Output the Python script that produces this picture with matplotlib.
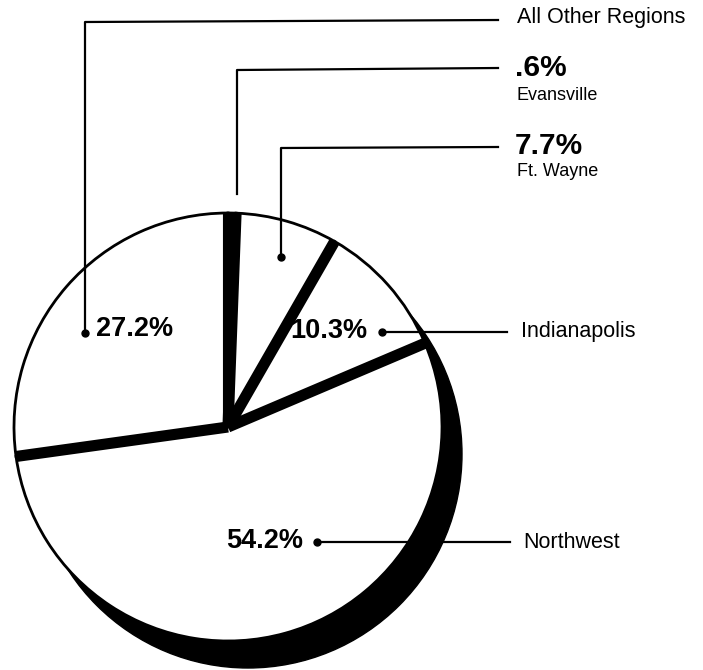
import matplotlib
matplotlib.use("Agg")
import matplotlib.pyplot as plt
import numpy as np
from matplotlib.patches import Circle

# data, clockwise from 12 o'clock
regions = ["Evansville", "Ft. Wayne", "Indianapolis", "Northwest", "All Other Regions"]
shares = [0.6, 7.7, 10.3, 54.2, 27.2]
pct_labels = [".6%", "7.7%", "10.3%", "54.2%", "27.2%"]
fills = ["black", "white", "white", "white", "white"]

W, H = 703, 670
cx, cy, rad = 228, H - 427, 214

plt.rcParams["font.family"] = ["Liberation Sans", "DejaVu Sans"]

fig = plt.figure(figsize=(W / 100, H / 100), dpi=100)
ax = fig.add_axes([0, 0, 1, 1])

# drop shadow
ax.add_patch(Circle((cx + 20, cy - 27), rad, color="black", zorder=0))

wedges, _ = ax.pie(shares, colors=fills, startangle=90, counterclock=False,
                   center=(cx, cy), radius=rad,
                   wedgeprops=dict(edgecolor="black", linewidth=2, zorder=1))

# thick black separators on the slice boundaries
angles = sorted({round(a, 4) % 360 for w in wedges for a in (w.theta1, w.theta2)})
for a in angles:
    t = np.deg2rad(a)
    ax.plot([cx, cx + rad * np.cos(t)], [cy, cy + rad * np.sin(t)],
            color="black", lw=8, solid_capstyle="butt", zorder=2)

lc = dict(color="black", lw=1.6, zorder=3)
ms = dict(marker="o", ms=5, color="black", zorder=4)
big = dict(fontsize=19.5, fontweight="bold", va="center", zorder=5)
top = dict(fontsize=21.5, fontweight="bold", va="center", zorder=5)
lab = dict(fontsize=15.5, va="center", zorder=5)
sub = dict(fontsize=13, va="center", zorder=5)

def y(v):
    return H - v

# All Other Regions
ax.plot([85, 85, 498], [y(333), y(22), y(20)], **lc)
ax.plot([85], [y(333)], **ms)
ax.text(96, y(329), pct_labels[4], ha="left", **big)
ax.text(517, y(18), regions[4], ha="left", **lab)

# Evansville
ax.plot([237, 237, 498], [y(194), y(70), y(68)], **lc)
ax.text(515, y(68), pct_labels[0], ha="left", **top)
ax.text(517, y(95), regions[0], ha="left", **sub)

# Ft. Wayne
ax.plot([281, 281, 498], [y(257), y(148), y(147)], **lc)
ax.plot([281], [y(257)], **ms)
ax.text(515, y(146), pct_labels[1], ha="left", **top)
ax.text(517, y(171), regions[1], ha="left", **sub)

# Indianapolis
ax.plot([382, 507], [y(332), y(332)], **lc)
ax.plot([382], [y(332)], **ms)
ax.text(367, y(331), pct_labels[2], ha="right", **big)
ax.text(521, y(331), regions[2], ha="left", **lab)

# Northwest
ax.plot([317, 510], [y(542), y(542)], **lc)
ax.plot([317], [y(542)], **ms)
ax.text(303, y(541), pct_labels[3], ha="right", **big)
ax.text(523, y(542), regions[3], ha="left", **lab)

ax.set_xlim(0, W)
ax.set_ylim(0, H)
ax.set_aspect("equal")
ax.axis("off")

fig.savefig("out.png", dpi=100, facecolor="white")
